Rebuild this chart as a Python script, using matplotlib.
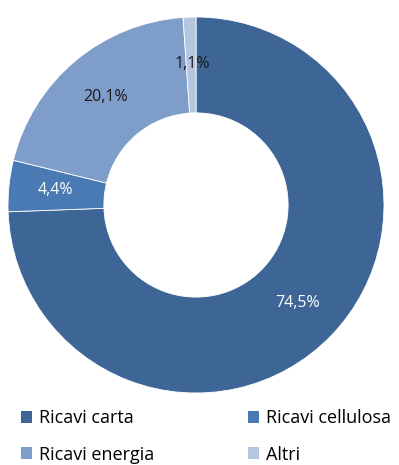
import matplotlib.pyplot as plt
from matplotlib.patches import Patch
import numpy as np

labels = ['Ricavi carta', 'Ricavi cellulosa', 'Ricavi energia', 'Altri']
values = [74.5, 4.4, 20.1, 1.1]
pct_text = ['74,5%', '4,4%', '20,1%', '1,1%']
colors = ['#3d6595', '#4a7ab3', '#7f9dc9', '#b5c6e1']
text_colors = ['white', 'white', '#1a1a1a', '#1a1a1a']

plt.rcParams['font.family'] = ['Open Sans', 'DejaVu Sans']

fig = plt.figure(figsize=(3.99, 4.65), dpi=100)
ax = fig.add_axes([8/399, 72/465, 376/399, 376/465])

wedges, _ = ax.pie(values, colors=colors, startangle=90, counterclock=False,
                   radius=1.0, wedgeprops=dict(width=0.51, edgecolor='white', linewidth=0.6))
# labels placed on the ring
ang = 90
for v, t, c in zip(values, pct_text, text_colors):
    mid = np.deg2rad(ang - v * 3.6 / 2)
    ang -= v * 3.6
    r = 0.75
    ax.text(r * np.cos(mid), r * np.sin(mid), t, ha='center', va='center',
            color=c, fontsize=11.5)
ax.set_xlim(-1, 1)
ax.set_ylim(-1, 1)
ax.set_aspect('equal')

# row-major order for a 2-column legend
order = [0, 2, 1, 3]
handles = [Patch(facecolor=colors[i], edgecolor='none') for i in order]
fig.legend(handles, [labels[i] for i in order], loc='upper left',
           bbox_to_anchor=(0.035, 0.135), ncol=2,
           frameon=False, fontsize=13, handlelength=0.6, handleheight=0.6,
           handletextpad=0.4, columnspacing=5.2, labelspacing=1.0, borderaxespad=0)

fig.savefig('out.png', dpi=100)
